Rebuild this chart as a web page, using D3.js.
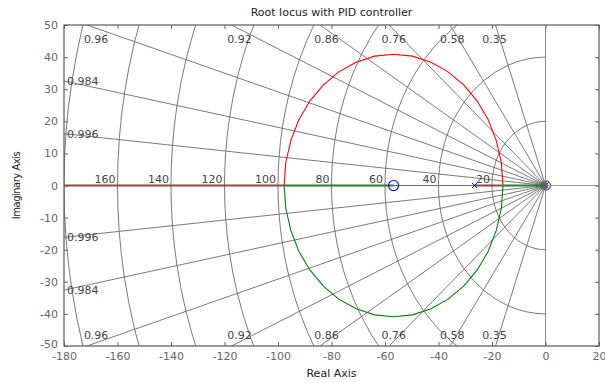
<!DOCTYPE html>
<html>
<head>
<meta charset="utf-8">
<script src="https://cdn.jsdelivr.net/npm/d3@7/dist/d3.min.js"></script>
<style>
  body { margin: 0; background: #fff; }
  text { font-family: "DejaVu Sans", Verdana, sans-serif; }
</style>
</head>
<body>
<svg id="chart" width="605" height="383"></svg>
<script>
// tick labels
const xTicks = [-180, -160, -140, -120, -100, -80, -60, -40, -20, 0, 20];
const yTicks = [-50, -40, -30, -20, -10, 0, 10, 20, 30, 40, 50];

// s-plane grid
const zetas = [0.35, 0.58, 0.76, 0.86, 0.92, 0.96, 0.984, 0.996];
const wnCircles = [20, 40, 60, 80, 100, 120, 140, 160, 180];
const wnLabels = [20, 40, 60, 80, 100, 120, 140, 160];

// root locus, complex part
const locusReal = [-15.9, -16.5, -18.4, -21.4, -25.5, -30.5, -36.4, -42.8, -49.7, -56.8,
                   -63.9, -70.8, -77.3, -83.1, -88.1, -92.2, -95.2, -97.1, -97.7];
const upperImag = [0, 7.1, 14.0, 20.5, 26.3, 31.3, 35.4, 38.4, 40.3, 40.9,
                   40.3, 38.4, 35.4, 31.3, 26.3, 20.5, 14.0, 7.1, 0];
const lowerImag = [0, -7.1, -14.0, -20.5, -26.3, -31.3, -35.4, -38.4, -40.3, -40.9,
                   -40.3, -38.4, -35.4, -31.3, -26.3, -20.5, -14.0, -7.1, 0];

// root locus on the real axis
const redAxisSegs = [[-180, -97.7], [-26.5, -15.9]];
const greenAxisSegs = [[-97.7, -56.8], [-15.9, 0]];

// open-loop poles and zeros
const polesRe = [-26.5, 0];
const zerosRe = [-56.8, 0];

const svg = d3.select('#chart');
const x = d3.scaleLinear().domain([-180, 20]).range([64, 599]);
const y = d3.scaleLinear().domain([-50, 50]).range([346, 25]);

svg.append('defs').append('clipPath').attr('id', 'plot')
  .append('rect')
  .attr('x', x(-180)).attr('y', y(50))
  .attr('width', x(20) - x(-180)).attr('height', y(-50) - y(50));

const plot = svg.append('g').attr('clip-path', 'url(#plot)');
const line = d3.line().x(d => x(d[0])).y(d => y(d[1]));

// markers at the origin sit under the grid
polesRe.filter(p => p === 0).forEach(p => {
  const cx = x(p), cy = y(0), s = 3;
  plot.append('path')
    .attr('d', `M${cx - s},${cy - s}L${cx + s},${cy + s}M${cx - s},${cy + s}L${cx + s},${cy - s}`)
    .attr('stroke', '#0000ff').attr('stroke-width', 1).attr('fill', 'none');
});
zerosRe.filter(z => z === 0).forEach(z => {
  plot.append('circle').attr('cx', x(z) + 0.5).attr('cy', y(0)).attr('r', 4.5)
    .attr('fill', 'none').attr('stroke', '#0000ff').attr('stroke-width', 1);
});

// zero lines
plot.append('line')
  .attr('x1', x(-180)).attr('x2', x(20)).attr('y1', y(0)).attr('y2', y(0))
  .attr('stroke', '#a0a0a0').attr('stroke-width', 1.2);
plot.append('line')
  .attr('x1', x(0)).attr('x2', x(0)).attr('y1', y(50)).attr('y2', y(-50))
  .attr('stroke', '#888').attr('stroke-width', 1);

const gridColor = '#6b6b6b';
const R = 400;

// damping lines
const angles = zetas.map(z => Math.acos(z));
angles.forEach(a => {
  [1, -1].forEach(sg => {
    plot.append('path')
      .attr('d', line([[0, 0], [-R * Math.cos(a), sg * R * Math.sin(a)]]))
      .attr('stroke', gridColor).attr('stroke-width', 0.9).attr('fill', 'none');
  });
});
plot.append('path').attr('d', line([[0, 0], [-R, 0]]))
  .attr('stroke', gridColor).attr('stroke-width', 0.9);

// natural frequency circles: polylines with corners on the damping lines
const knots = [0].concat(angles.slice().sort((a, b) => a - b)).concat([Math.PI / 2]);
const half = [];
for (let i = 0; i < knots.length - 1; i++) {
  const n = i === knots.length - 2 ? 4 : 2;
  for (let k = 0; k < n; k++) half.push(knots[i] + (knots[i + 1] - knots[i]) * k / n);
}
half.push(Math.PI / 2);
const sweep = half.slice(1).reverse().map(a => -a).concat(half);
wnCircles.forEach(wn => {
  const pts = sweep.map(a => [-wn * Math.cos(a), wn * Math.sin(a)]);
  plot.append('path').attr('d', line(pts))
    .attr('stroke', gridColor).attr('stroke-width', 0.9).attr('fill', 'none');
});

// where all the damping lines meet, they merge into a dark spot
plot.append('circle').attr('cx', x(0) - 1.5).attr('cy', y(0)).attr('r', 4)
  .attr('fill', '#666');

// root locus branches
const redBranch = locusReal.map((r, i) => [r, upperImag[i]]);
const greenBranch = locusReal.map((r, i) => [r, lowerImag[i]]);
plot.append('path').attr('d', line(redBranch))
  .attr('stroke', '#ff0000').attr('stroke-width', 1.1).attr('fill', 'none');
plot.append('path').attr('d', line(greenBranch))
  .attr('stroke', '#008000').attr('stroke-width', 1.1).attr('fill', 'none');
redAxisSegs.forEach(s => {
  plot.append('path').attr('d', line([[s[0], 0], [s[1], 0]]))
    .attr('stroke', '#8a4a44').attr('stroke-width', 2);
});
greenAxisSegs.forEach(s => {
  plot.append('path').attr('d', line([[s[0], 0], [s[1], 0]]))
    .attr('stroke', '#2f7a2f').attr('stroke-width', 2);
});

// poles and zeros off the origin
polesRe.filter(p => p !== 0).forEach(p => {
  const cx = x(p), cy = y(0), s = 2.5;
  plot.append('path')
    .attr('d', `M${cx - s},${cy - s}L${cx + s},${cy + s}M${cx - s},${cy + s}L${cx + s},${cy - s}`)
    .attr('stroke', '#0000ff').attr('stroke-width', 1).attr('fill', 'none');
});
zerosRe.filter(z => z !== 0).forEach(z => {
  plot.append('circle').attr('cx', x(z)).attr('cy', y(0)).attr('r', 5)
    .attr('fill', 'none').attr('stroke', '#0000ff').attr('stroke-width', 1.1);
});

// grid labels
const labels = svg.append('g').attr('font-size', 11).attr('fill', '#444');
zetas.forEach((z, i) => {
  const a = angles[i];
  const leftIm = 180 * Math.tan(a);
  if (leftIm <= 50) {
    labels.append('text').attr('x', x(-180) + 3).attr('y', y(leftIm) + 4).text(z);
    labels.append('text').attr('x', x(-180) + 3).attr('y', y(-leftIm) + 4).text(z);
  } else {
    const re = -50 / Math.tan(a);
    const off = -3 - (a * 180 / Math.PI - 16) * 0.19;
    labels.append('text').attr('x', x(re) + off).attr('y', y(50) + 18).text(z);
    labels.append('text').attr('x', x(re) + off).attr('y', y(-50) - 7).text(z);
  }
});
wnLabels.forEach(wn => {
  labels.append('text').attr('x', x(-wn) - 2).attr('y', y(0) - 3)
    .attr('text-anchor', 'end').text(wn);
});

// axes
const tickCol = '#666';
const fmt = d => String(d);
const gx = svg.append('g').attr('transform', `translate(0,${y(-50)})`)
  .call(d3.axisBottom(x).tickValues(xTicks).tickFormat(fmt).tickSizeInner(-4).tickSizeOuter(0).tickPadding(6));
const gy = svg.append('g').attr('transform', `translate(${x(-180)},0)`)
  .call(d3.axisLeft(y).tickValues(yTicks).tickFormat(fmt).tickSizeInner(-4).tickSizeOuter(0).tickPadding(6));
const gt = svg.append('g').attr('transform', `translate(0,${y(50)})`)
  .call(d3.axisTop(x).tickValues(xTicks).tickSizeInner(-4).tickSizeOuter(0).tickFormat(''));
const gr = svg.append('g').attr('transform', `translate(${x(20)},0)`)
  .call(d3.axisRight(y).tickValues(yTicks).tickSizeInner(-4).tickSizeOuter(0).tickFormat(''));
[gx, gy, gt, gr].forEach(g => {
  g.select('.domain').remove();
  g.selectAll('line').attr('stroke', tickCol);
  g.selectAll('text').attr('fill', '#666').attr('font-size', 11)
    .attr('font-family', '"DejaVu Sans", Verdana, sans-serif');
});
// lowest y label sits a touch higher so it clears the first x label
gy.selectAll('.tick').filter(d => d === yTicks[0]).select('text').attr('dy', '0.12em');

svg.append('rect')
  .attr('x', x(-180)).attr('y', y(50))
  .attr('width', x(20) - x(-180)).attr('height', y(-50) - y(50))
  .attr('fill', 'none').attr('stroke', '#5a5a5a').attr('stroke-width', 1.2);

// titles
svg.append('text').attr('x', (x(-180) + x(20)) / 2).attr('y', 16)
  .attr('text-anchor', 'middle').attr('font-size', 11).attr('fill', '#222')
  .text('Root locus with PID controller');
svg.append('text').attr('x', (x(-180) + x(20)) / 2).attr('y', 377)
  .attr('text-anchor', 'middle').attr('font-size', 11).attr('fill', '#222')
  .text('Real Axis');
svg.append('text').attr('transform', `translate(20,${y(0)}) rotate(-90)`)
  .attr('text-anchor', 'middle').attr('font-size', 10).attr('fill', '#222')
  .attr('letter-spacing', -0.5)
  .text('Imaginary Axis');
</script>
</body>
</html>
